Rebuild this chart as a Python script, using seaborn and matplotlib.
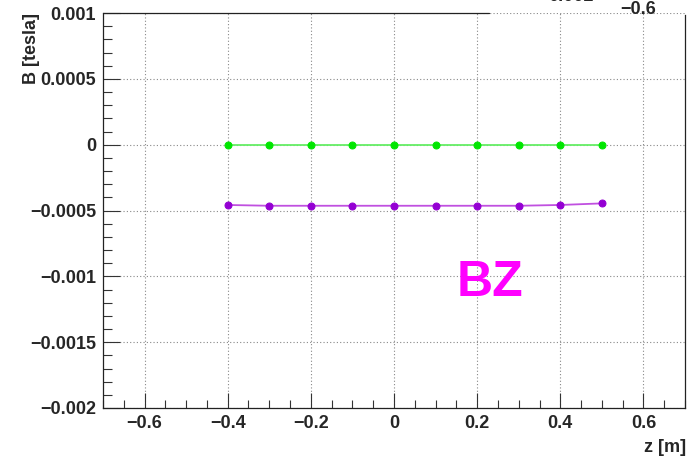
import matplotlib
matplotlib.use("Agg")
import matplotlib.pyplot as plt
import seaborn as sns
import pandas as pd
from matplotlib.ticker import FixedLocator, FixedFormatter, MultipleLocator

# ---- data ----
z_values = [-0.4, -0.3, -0.2, -0.1, 0.0, 0.1, 0.2, 0.3, 0.4, 0.5]
b_green = [0.0, 0.0, 0.0, 0.0, 0.0, 0.0, 0.0, 0.0, 0.0, 0.0]
b_purple = [-0.000458, -0.000464, -0.000464, -0.000464, -0.000464,
            -0.000464, -0.000464, -0.000464, -0.000458, -0.000446]
x_ticks = [-0.6, -0.4, -0.2, 0.0, 0.2, 0.4, 0.6]
x_tick_labels = ["\u22120.6", "\u22120.4", "\u22120.2", "0", "0.2", "0.4", "0.6"]
y_ticks = [0.001, 0.0005, 0.0, -0.0005, -0.001, -0.0015, -0.002]
y_tick_labels = ["0.001", "0.0005", "0", "\u22120.0005", "\u22120.001", "\u22120.0015", "\u22120.002"]
x_label = "z [m]"
y_label = "B [tesla]"
panel_text = "BZ"
stat_texts = ["0.002", "\u22120.6"]

sns.set_style("white")
plt.rcParams['font.family'] = ['Liberation Sans', 'DejaVu Sans']
plt.rcParams['font.weight'] = 'bold'

fig = plt.figure(figsize=(6.92, 4.62), dpi=100)
ax = fig.add_axes([103/692, 1-408/462, (685-103)/692, (408-13)/462])

df_g = pd.DataFrame({"z": z_values, "B": b_green})
df_p = pd.DataFrame({"z": z_values, "B": b_purple})

sns.lineplot(data=df_g, x="z", y="B", ax=ax, color="#66ee66", lw=1.3,
             marker="o", markersize=5, markerfacecolor="#00e600",
             markeredgecolor="#00e600", zorder=3)
sns.lineplot(data=df_p, x="z", y="B", ax=ax, color="#c050e0", lw=1.3,
             marker="o", markersize=5, markerfacecolor="#9400d3",
             markeredgecolor="#9400d3", zorder=3)

ax.set_xlim(-0.7, 0.7)
ax.set_ylim(-0.002, 0.001)

ax.xaxis.set_major_locator(FixedLocator(x_ticks))
ax.xaxis.set_major_formatter(FixedFormatter(x_tick_labels))
ax.xaxis.set_minor_locator(MultipleLocator(0.05))
ax.yaxis.set_major_locator(FixedLocator(y_ticks))
ax.yaxis.set_major_formatter(FixedFormatter(y_tick_labels))
ax.yaxis.set_minor_locator(MultipleLocator(0.0001))

ax.tick_params(axis='x', which='major', direction='in', length=10.8, width=0.8,
               labelsize=13, pad=5, top=False, bottom=True, color='#333333')
ax.tick_params(axis='x', which='minor', direction='in', length=5.8, width=0.8,
               top=False, bottom=True, color='#333333')
ax.tick_params(axis='y', which='major', direction='in', length=12, width=0.8,
               labelsize=13, pad=5, left=True, right=False, color='#333333')
ax.tick_params(axis='y', which='minor', direction='in', length=6.5, width=0.8,
               left=True, right=False, color='#333333')
for lab in ax.get_xticklabels() + ax.get_yticklabels():
    lab.set_fontweight('bold')

ax.grid(True, which='major', color='#888888', linestyle=(0, (1, 2)), lw=0.8)
ax.set_axisbelow(True)

ax.set_xlabel("")
ax.set_ylabel("")

for side in ['left', 'bottom', 'right']:
    ax.spines[side].set_color('#222222')
    ax.spines[side].set_linewidth(0.9)
ax.spines['top'].set_visible(False)
ax.spines['right'].set_bounds(-0.002, 0.001 - 0.003 * 2/395)
# partial top frame line (rest hidden by a box off the top)
ax.plot([-0.7, (488-393)/416], [0.001, 0.001], color='#222222', lw=0.9,
        clip_on=False, zorder=4)

fig.text(686/692, 1-447/462, x_label, ha='right', va='center',
         fontsize=13, fontweight='bold')
fig.text(31/692, 1-13/462, y_label, ha='center', va='top', rotation=90,
         fontsize=13, fontweight='bold')

ax.text(0.23, -0.00105, panel_text, color='#ff00ff', fontsize=36,
        fontweight='bold', ha='center', va='center')

fig.text(571/692, 1-(-4)/462, stat_texts[0], ha='center', va='center',
         fontsize=13, fontweight='bold')
fig.text(638/692, 1-9/462, stat_texts[1], ha='center', va='center',
         fontsize=13, fontweight='bold')

fig.savefig("out.png", dpi=100)
